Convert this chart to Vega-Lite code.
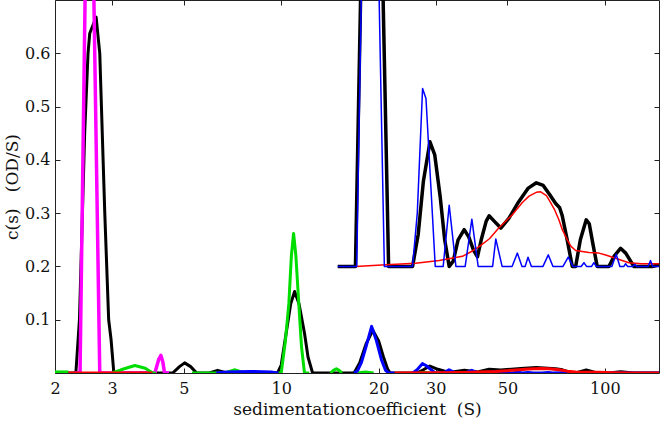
{
  "$schema": "https://vega.github.io/schema/vega-lite/v6.json",
  "width": 604,
  "height": 373,
  "autosize": {"type": "none"},
  "padding": {"left": 55, "top": 0, "right": 1, "bottom": 49},
  "background": "white",
  "config": {
    "view": {"stroke": "#222", "strokeWidth": 1},
    "font": "DejaVu Serif",
    "axis": {
      "domain": false, "grid": false, "tickColor": "#222", "tickSize": -5, "tickWidth": 1,
      "labelFont": "DejaVu Serif", "labelFontSize": 16, "labelColor": "#111",
      "titleFont": "DejaVu Serif", "titleFontSize": 17, "titleFontWeight": "normal", "titleColor": "#111"
    }
  },
  "datasets": {
    "curves": [
      {"series":"main black","part":1,"s":2.0,"c":0},{"series":"main black","part":1,"s":2.32,"c":0},{"series":"main black","part":1,"s":2.38,"c":0.1},{"series":"main black","part":1,"s":2.47,"c":0.45},{"series":"main black","part":1,"s":2.53,"c":0.6},{"series":"main black","part":1,"s":2.56,"c":0.637},{"series":"main black","part":1,"s":2.68,"c":0.668},{"series":"main black","part":1,"s":2.75,"c":0.6},{"series":"main black","part":1,"s":2.85,"c":0.3},{"series":"main black","part":1,"s":2.93,"c":0.1},{"series":"main black","part":1,"s":2.98,"c":0.063},{"series":"main black","part":1,"s":3.04,"c":0},{"series":"main black","part":1,"s":4.62,"c":0},{"series":"main black","part":1,"s":4.85,"c":0.012},{"series":"main black","part":1,"s":5.03,"c":0.019},{"series":"main black","part":1,"s":5.25,"c":0.012},{"series":"main black","part":1,"s":5.48,"c":0},{"series":"main black","part":1,"s":6.0,"c":0},{"series":"main black","part":1,"s":6.36,"c":0.005},{"series":"main black","part":1,"s":6.8,"c":0},{"series":"main black","part":1,"s":9.74,"c":0},{"series":"main black","part":1,"s":10.0,"c":0.015},{"series":"main black","part":1,"s":10.36,"c":0.075},{"series":"main black","part":1,"s":10.7,"c":0.13},{"series":"main black","part":1,"s":11.0,"c":0.153},{"series":"main black","part":1,"s":11.35,"c":0.13},{"series":"main black","part":1,"s":11.8,"c":0.075},{"series":"main black","part":1,"s":12.1,"c":0.03},{"series":"main black","part":1,"s":12.5,"c":0},{"series":"main black","part":1,"s":16.8,"c":0},{"series":"main black","part":1,"s":17.5,"c":0.02},{"series":"main black","part":1,"s":18.3,"c":0.055},{"series":"main black","part":1,"s":19.2,"c":0.08},{"series":"main black","part":1,"s":20.0,"c":0.06},{"series":"main black","part":1,"s":20.7,"c":0.03},{"series":"main black","part":1,"s":21.3,"c":0.008},{"series":"main black","part":1,"s":21.7,"c":0},{"series":"main black","part":1,"s":26.3,"c":0},{"series":"main black","part":1,"s":27.5,"c":0.006},{"series":"main black","part":1,"s":28.8,"c":0.013},{"series":"main black","part":1,"s":30.5,"c":0.007},{"series":"main black","part":1,"s":33,"c":0.001},{"series":"main black","part":1,"s":36.8,"c":0.005},{"series":"main black","part":1,"s":40.4,"c":0.002},{"series":"main black","part":1,"s":43.9,"c":0.007},{"series":"main black","part":1,"s":47.7,"c":0.0055},{"series":"main black","part":1,"s":55,"c":0.0085},{"series":"main black","part":1,"s":61.4,"c":0.0105},{"series":"main black","part":1,"s":70.5,"c":0.008},{"series":"main black","part":1,"s":74,"c":0.006},{"series":"main black","part":1,"s":79.3,"c":0},{"series":"main black","part":1,"s":81.2,"c":0},{"series":"main black","part":1,"s":87.6,"c":0.0055},{"series":"main black","part":1,"s":94.7,"c":0},{"series":"main black","part":1,"s":102.9,"c":0},{"series":"main black","part":1,"s":111.8,"c":0.0025},{"series":"main black","part":1,"s":122.9,"c":0},{"series":"main black","part":1,"s":147,"c":0.0002},

      {"series":"magenta","part":1,"s":2.3,"c":0},{"series":"magenta","part":1,"s":2.39,"c":0},{"series":"magenta","part":1,"s":2.55,"c":1.27},{"series":"magenta","part":1,"s":2.75,"c":0},{"series":"magenta","part":1,"s":4.07,"c":0},{"series":"magenta","part":1,"s":4.18,"c":0.025},{"series":"magenta","part":1,"s":4.25,"c":0.033},{"series":"magenta","part":1,"s":4.31,"c":0.02},{"series":"magenta","part":1,"s":4.36,"c":0},{"series":"magenta","part":1,"s":4.5,"c":0},

      {"series":"green","part":1,"s":2.0,"c":0.002},{"series":"green","part":1,"s":2.2,"c":0.002},
      {"series":"green","part":2,"s":3.0,"c":0},{"series":"green","part":2,"s":3.2,"c":0.006},{"series":"green","part":2,"s":3.53,"c":0.014},{"series":"green","part":2,"s":3.8,"c":0.009},{"series":"green","part":2,"s":4.01,"c":0},{"series":"green","part":2,"s":4.1,"c":0},
      {"series":"green","part":3,"s":5.3,"c":0},{"series":"green","part":3,"s":6.7,"c":0},{"series":"green","part":3,"s":7.0,"c":0.004},{"series":"green","part":3,"s":7.2,"c":0.006},{"series":"green","part":3,"s":7.45,"c":0.003},{"series":"green","part":3,"s":7.7,"c":0},
      {"series":"green","part":4,"s":9.8,"c":0},{"series":"green","part":4,"s":10.0,"c":0},{"series":"green","part":4,"s":10.3,"c":0.06},{"series":"green","part":4,"s":10.56,"c":0.131},{"series":"green","part":4,"s":10.75,"c":0.22},{"series":"green","part":4,"s":10.92,"c":0.262},{"series":"green","part":4,"s":11.1,"c":0.22},{"series":"green","part":4,"s":11.33,"c":0.131},{"series":"green","part":4,"s":11.55,"c":0.05},{"series":"green","part":4,"s":11.8,"c":0},{"series":"green","part":4,"s":12.2,"c":0},
      {"series":"green","part":5,"s":14.2,"c":0},{"series":"green","part":5,"s":14.5,"c":0.005},{"series":"green","part":5,"s":14.8,"c":0.008},{"series":"green","part":5,"s":15.1,"c":0.005},{"series":"green","part":5,"s":15.4,"c":0},
      {"series":"green","part":6,"s":17.2,"c":0},{"series":"green","part":6,"s":18.2,"c":0.002},{"series":"green","part":6,"s":19.3,"c":0},
      {"series":"green","part":7,"s":26.8,"c":0},{"series":"green","part":7,"s":27.8,"c":0.001},{"series":"green","part":7,"s":28.8,"c":0},

      {"series":"blue","part":1,"s":6.3,"c":0},{"series":"blue","part":1,"s":6.8,"c":0.002},{"series":"blue","part":1,"s":8,"c":0.003},{"series":"blue","part":1,"s":9.3,"c":0.002},{"series":"blue","part":1,"s":9.8,"c":0},
      {"series":"blue","part":2,"s":16.8,"c":0},{"series":"blue","part":2,"s":17.2,"c":0.004},{"series":"blue","part":2,"s":17.7,"c":0.02},{"series":"blue","part":2,"s":18.3,"c":0.05},{"series":"blue","part":2,"s":19.03,"c":0.0875},{"series":"blue","part":2,"s":19.7,"c":0.06},{"series":"blue","part":2,"s":20.4,"c":0.025},{"series":"blue","part":2,"s":21.0,"c":0.005},{"series":"blue","part":2,"s":21.5,"c":0},{"series":"blue","part":2,"s":22.4,"c":0},
      {"series":"blue","part":3,"s":25.5,"c":0},{"series":"blue","part":3,"s":26.3,"c":0.006},{"series":"blue","part":3,"s":27.3,"c":0.0176},{"series":"blue","part":3,"s":28.0,"c":0.014},{"series":"blue","part":3,"s":29.9,"c":0},{"series":"blue","part":3,"s":31.7,"c":0},{"series":"blue","part":3,"s":33.0,"c":0.006},{"series":"blue","part":3,"s":34.7,"c":0},{"series":"blue","part":3,"s":37,"c":0},{"series":"blue","part":3,"s":38.8,"c":0.005},{"series":"blue","part":3,"s":40.6,"c":0},{"series":"blue","part":3,"s":44,"c":0},{"series":"blue","part":3,"s":46,"c":0.003},{"series":"blue","part":3,"s":48,"c":0},{"series":"blue","part":3,"s":52,"c":0},{"series":"blue","part":3,"s":53.7,"c":0.002},{"series":"blue","part":3,"s":55.5,"c":0},{"series":"blue","part":3,"s":58,"c":0.001},{"series":"blue","part":3,"s":60,"c":0},{"series":"blue","part":3,"s":64,"c":0},{"series":"blue","part":3,"s":67,"c":0.001},{"series":"blue","part":3,"s":69,"c":0},{"series":"blue","part":3,"s":77,"c":0.001},{"series":"blue","part":3,"s":80,"c":0},{"series":"blue","part":3,"s":147,"c":0},

      {"series":"red","part":1,"s":2.2,"c":0},{"series":"red","part":1,"s":4.0,"c":0},
      {"series":"red","part":2,"s":22.4,"c":0},{"series":"red","part":2,"s":30,"c":0.0005},{"series":"red","part":2,"s":36.3,"c":0.001},{"series":"red","part":2,"s":40.9,"c":0.002},{"series":"red","part":2,"s":46,"c":0.003},{"series":"red","part":2,"s":51.8,"c":0.005},{"series":"red","part":2,"s":58.3,"c":0.0075},{"series":"red","part":2,"s":63.4,"c":0.0085},{"series":"red","part":2,"s":67.2,"c":0.0078},{"series":"red","part":2,"s":72.2,"c":0.006},{"series":"red","part":2,"s":76.5,"c":0.0035},{"series":"red","part":2,"s":81.2,"c":0.0018},{"series":"red","part":2,"s":89.3,"c":0.0015},{"series":"red","part":2,"s":95.8,"c":0.0014},{"series":"red","part":2,"s":107.9,"c":0.0006},{"series":"red","part":2,"s":118.6,"c":0.0002},{"series":"red","part":2,"s":147,"c":0.0002},

      {"series":"inset black","part":1,"s":14.95,"c":0.2},{"series":"inset black","part":1,"s":16.96,"c":0.2},{"series":"inset black","part":1,"s":17.65,"c":0.75},{"series":"inset black","part":1,"s":19.0,"c":1.7},{"series":"inset black","part":1,"s":20.57,"c":0.75},{"series":"inset black","part":1,"s":21.47,"c":0.2},{"series":"inset black","part":1,"s":25.46,"c":0.2},{"series":"inset black","part":1,"s":26.5,"c":0.26},{"series":"inset black","part":1,"s":27.5,"c":0.36},{"series":"inset black","part":1,"s":28.81,"c":0.434},{"series":"inset black","part":1,"s":29.8,"c":0.41},{"series":"inset black","part":1,"s":31.0,"c":0.33},{"series":"inset black","part":1,"s":32.0,"c":0.25},{"series":"inset black","part":1,"s":33.04,"c":0.2},{"series":"inset black","part":1,"s":34.0,"c":0.21},{"series":"inset black","part":1,"s":35.2,"c":0.25},{"series":"inset black","part":1,"s":36.76,"c":0.269},{"series":"inset black","part":1,"s":38.0,"c":0.255},{"series":"inset black","part":1,"s":39.3,"c":0.23},{"series":"inset black","part":1,"s":40.4,"c":0.218},{"series":"inset black","part":1,"s":41.5,"c":0.25},{"series":"inset black","part":1,"s":43.0,"c":0.285},{"series":"inset black","part":1,"s":43.89,"c":0.295},{"series":"inset black","part":1,"s":45.5,"c":0.285},{"series":"inset black","part":1,"s":47.7,"c":0.272},{"series":"inset black","part":1,"s":50.5,"c":0.29},{"series":"inset black","part":1,"s":54,"c":0.32},{"series":"inset black","part":1,"s":58,"c":0.347},{"series":"inset black","part":1,"s":61.42,"c":0.357},{"series":"inset black","part":1,"s":64.5,"c":0.352},{"series":"inset black","part":1,"s":67.5,"c":0.335},{"series":"inset black","part":1,"s":70.48,"c":0.318},{"series":"inset black","part":1,"s":72.5,"c":0.31},{"series":"inset black","part":1,"s":73.86,"c":0.295},{"series":"inset black","part":1,"s":76.5,"c":0.25},{"series":"inset black","part":1,"s":79.3,"c":0.2},{"series":"inset black","part":1,"s":81.24,"c":0.2},{"series":"inset black","part":1,"s":84,"c":0.25},{"series":"inset black","part":1,"s":87.59,"c":0.2875},{"series":"inset black","part":1,"s":89.5,"c":0.28},{"series":"inset black","part":1,"s":92,"c":0.24},{"series":"inset black","part":1,"s":94.7,"c":0.2},{"series":"inset black","part":1,"s":102.9,"c":0.2},{"series":"inset black","part":1,"s":107,"c":0.22},{"series":"inset black","part":1,"s":111.8,"c":0.234},{"series":"inset black","part":1,"s":116,"c":0.225},{"series":"inset black","part":1,"s":122.9,"c":0.2},{"series":"inset black","part":1,"s":140,"c":0.2},{"series":"inset black","part":1,"s":147,"c":0.203},

      {"series":"inset red","part":1,"s":16.98,"c":0.2},{"series":"inset red","part":1,"s":21.08,"c":0.203},{"series":"inset red","part":1,"s":26,"c":0.206},{"series":"inset red","part":1,"s":30.78,"c":0.211},{"series":"inset red","part":1,"s":36.31,"c":0.219},{"series":"inset red","part":1,"s":38.98,"c":0.229},{"series":"inset red","part":1,"s":40.88,"c":0.237},{"series":"inset red","part":1,"s":44,"c":0.252},{"series":"inset red","part":1,"s":47,"c":0.272},{"series":"inset red","part":1,"s":51.78,"c":0.297},{"series":"inset red","part":1,"s":55.6,"c":0.32},{"series":"inset red","part":1,"s":58.31,"c":0.332},{"series":"inset red","part":1,"s":61.4,"c":0.339},{"series":"inset red","part":1,"s":63.35,"c":0.34},{"series":"inset red","part":1,"s":66,"c":0.333},{"series":"inset red","part":1,"s":67.22,"c":0.325},{"series":"inset red","part":1,"s":70,"c":0.306},{"series":"inset red","part":1,"s":72.15,"c":0.287},{"series":"inset red","part":1,"s":74,"c":0.268},{"series":"inset red","part":1,"s":76.53,"c":0.25},{"series":"inset red","part":1,"s":78.5,"c":0.238},{"series":"inset red","part":1,"s":81.24,"c":0.23},{"series":"inset red","part":1,"s":89.3,"c":0.226},{"series":"inset red","part":1,"s":95.82,"c":0.225},{"series":"inset red","part":1,"s":100,"c":0.222},{"series":"inset red","part":1,"s":107.9,"c":0.2155},{"series":"inset red","part":1,"s":118.6,"c":0.207},{"series":"inset red","part":1,"s":130,"c":0.205},{"series":"inset red","part":1,"s":147,"c":0.205},

      {"series":"inset blue","part":1,"s":14.95,"c":0.2},{"series":"inset blue","part":1,"s":17.11,"c":0.2},{"series":"inset blue","part":1,"s":17.73,"c":0.75},{"series":"inset blue","part":1,"s":18.8,"c":1.85},{"series":"inset blue","part":1,"s":20.0,"c":0.75},{"series":"inset blue","part":1,"s":20.83,"c":0.2},{"series":"inset blue","part":1,"s":25.46,"c":0.2},{"series":"inset blue","part":1,"s":26.33,"c":0.3},{"series":"inset blue","part":1,"s":27.34,"c":0.534},{"series":"inset blue","part":1,"s":28.01,"c":0.515},{"series":"inset blue","part":1,"s":29.0,"c":0.35},{"series":"inset blue","part":1,"s":29.92,"c":0.2},{"series":"inset blue","part":1,"s":31.66,"c":0.2},{"series":"inset blue","part":1,"s":33.04,"c":0.315},{"series":"inset blue","part":1,"s":34.66,"c":0.2},{"series":"inset blue","part":1,"s":37.02,"c":0.2},{"series":"inset blue","part":1,"s":38.82,"c":0.2886},{"series":"inset blue","part":1,"s":40.6,"c":0.2},{"series":"inset blue","part":1,"s":45.0,"c":0.2},{"series":"inset blue","part":1,"s":46.03,"c":0.2517},{"series":"inset blue","part":1,"s":48.14,"c":0.2},{"series":"inset blue","part":1,"s":51.68,"c":0.2},{"series":"inset blue","part":1,"s":53.66,"c":0.225},{"series":"inset blue","part":1,"s":55.47,"c":0.2},{"series":"inset blue","part":1,"s":56.7,"c":0.2},{"series":"inset blue","part":1,"s":57.89,"c":0.2174},{"series":"inset blue","part":1,"s":59.3,"c":0.2},{"series":"inset blue","part":1,"s":64.39,"c":0.2},{"series":"inset blue","part":1,"s":66.87,"c":0.2217},{"series":"inset blue","part":1,"s":69.14,"c":0.2},{"series":"inset blue","part":1,"s":74.22,"c":0.2},{"series":"inset blue","part":1,"s":77.07,"c":0.2174},{"series":"inset blue","part":1,"s":79.7,"c":0.2},{"series":"inset blue","part":1,"s":84.5,"c":0.2},{"series":"inset blue","part":1,"s":86.18,"c":0.207},{"series":"inset blue","part":1,"s":87.8,"c":0.2},{"series":"inset blue","part":1,"s":91,"c":0.2},{"series":"inset blue","part":1,"s":92.5,"c":0.207},{"series":"inset blue","part":1,"s":94,"c":0.2},{"series":"inset blue","part":1,"s":105.1,"c":0.2},{"series":"inset blue","part":1,"s":108.4,"c":0.223},{"series":"inset blue","part":1,"s":111.3,"c":0.2},{"series":"inset blue","part":1,"s":114.5,"c":0.2},{"series":"inset blue","part":1,"s":115.9,"c":0.205},{"series":"inset blue","part":1,"s":117.5,"c":0.2},{"series":"inset blue","part":1,"s":122,"c":0.2},{"series":"inset blue","part":1,"s":123.8,"c":0.204},{"series":"inset blue","part":1,"s":125.5,"c":0.2},{"series":"inset blue","part":1,"s":136,"c":0.2},{"series":"inset blue","part":1,"s":138.4,"c":0.211},{"series":"inset blue","part":1,"s":140.5,"c":0.2},{"series":"inset blue","part":1,"s":147,"c":0.2}
    ]
  },
  "data": {"name": "curves"},
  "resolve": {"axis": {"x": "independent", "y": "independent"}},
  "layer": [
    {
      "transform": [{"filter": "datum.series === 'main black'"}],
      "mark": {"type": "line", "color": "#000000", "strokeWidth": 3, "strokeJoin": "round", "clip": true},
      "encoding": {
        "x": {"field": "s", "type": "quantitative", "scale": {"type": "log", "domain": [2, 147], "nice": false},
              "axis": {"orient": "bottom", "values": [2, 3, 5, 10, 20, 30, 50, 100], "format": "~g", "labelPadding": 12, "labelFlush": false, "title": "sedimentationcoefficient\u00a0\u00a0(S)", "titlePadding": 5}},
        "y": {"field": "c", "type": "quantitative", "scale": {"domain": [0, 0.7], "nice": false, "zero": false},
              "axis": {"orient": "left", "values": [0.1, 0.2, 0.3, 0.4, 0.5, 0.6], "format": ".1f", "labelPadding": 10, "title": "c(s)\u00a0\u00a0\u00a0(OD/S)", "titlePadding": 3}},
        "detail": {"field": "part"}
      }
    },
    {
      "transform": [{"filter": "datum.series === 'magenta'"}],
      "mark": {"type": "line", "color": "#ff00ff", "strokeWidth": 3.5, "strokeJoin": "round", "clip": true},
      "encoding": {
        "x": {"field": "s", "type": "quantitative", "axis": {"orient": "top", "values": [2, 3, 5, 10, 20, 30, 50, 100], "labels": false, "title": null}},
        "y": {"field": "c", "type": "quantitative", "axis": {"orient": "right", "values": [0.1, 0.2, 0.3, 0.4, 0.5, 0.6], "labels": false, "title": null}},
        "detail": {"field": "part"}
      }
    },
    {
      "transform": [{"filter": "datum.series === 'green'"}],
      "mark": {"type": "line", "color": "#00dd00", "strokeWidth": 3, "strokeJoin": "round", "clip": true},
      "encoding": {
        "x": {"field": "s", "type": "quantitative", "axis": null},
        "y": {"field": "c", "type": "quantitative", "axis": null},
        "detail": {"field": "part"}
      }
    },
    {
      "transform": [{"filter": "datum.series === 'blue'"}],
      "mark": {"type": "line", "color": "#0000ff", "strokeWidth": 3, "strokeJoin": "round", "clip": true},
      "encoding": {
        "x": {"field": "s", "type": "quantitative", "axis": null},
        "y": {"field": "c", "type": "quantitative", "axis": null},
        "detail": {"field": "part"}
      }
    },
    {
      "transform": [{"filter": "datum.series === 'red'"}],
      "mark": {"type": "line", "color": "#ff0000", "strokeWidth": 3, "strokeJoin": "round", "clip": true},
      "encoding": {
        "x": {"field": "s", "type": "quantitative", "axis": null},
        "y": {"field": "c", "type": "quantitative", "axis": null},
        "detail": {"field": "part"}
      }
    },
    {
      "transform": [{"filter": "datum.series === 'inset black'"}],
      "mark": {"type": "line", "color": "#000000", "strokeWidth": 3.5, "strokeJoin": "round", "clip": true},
      "encoding": {
        "x": {"field": "s", "type": "quantitative", "axis": null},
        "y": {"field": "c", "type": "quantitative", "axis": null}
      }
    },
    {
      "transform": [{"filter": "datum.series === 'inset red'"}],
      "mark": {"type": "line", "color": "#ff0000", "strokeWidth": 1.5, "strokeJoin": "round", "clip": true},
      "encoding": {
        "x": {"field": "s", "type": "quantitative", "axis": null},
        "y": {"field": "c", "type": "quantitative", "axis": null}
      }
    },
    {
      "transform": [{"filter": "datum.series === 'inset blue'"}],
      "mark": {"type": "line", "color": "#0000ff", "strokeWidth": 1.5, "strokeJoin": "round", "clip": true},
      "encoding": {
        "x": {"field": "s", "type": "quantitative", "axis": null},
        "y": {"field": "c", "type": "quantitative", "axis": null}
      }
    }
  ]
}
